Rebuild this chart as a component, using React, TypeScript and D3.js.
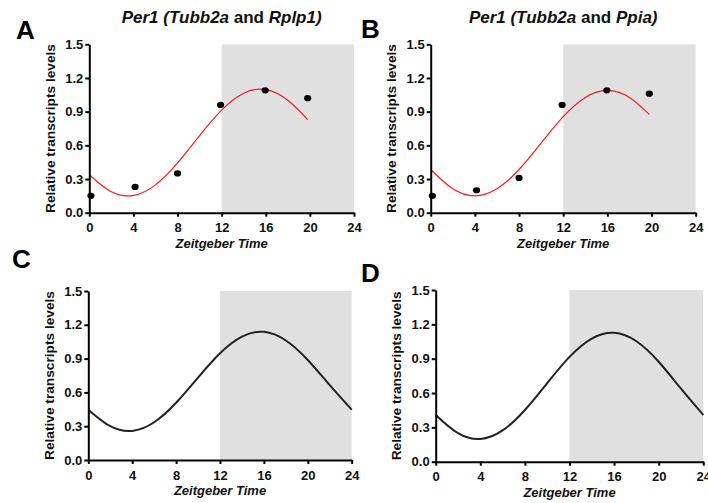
import React, { useEffect, useRef } from 'react';
import * as d3 from 'd3';

// sampling times (ZT hours) and measured relative levels
const sampleHours = [0.15, 4.15, 8, 11.9, 15.95, 19.8];
const pointsA = [0.15, 0.23, 0.35, 0.96, 1.09, 1.02];
const pointsB = [0.15, 0.2, 0.31, 0.96, 1.09, 1.06];

// fitted curves
const fitHoursAB = [0, 2, 4, 6, 8, 10, 12, 14, 16, 18, 19.8];
const fitA = [0.338, 0.186, 0.154, 0.248, 0.443, 0.687, 0.914, 1.064, 1.096, 1.002, 0.829];
const fitB = [0.385, 0.213, 0.15, 0.213, 0.385, 0.62, 0.855, 1.027, 1.09, 1.027, 0.876];

const fitHoursCD = [0, 2, 4, 6, 8, 10, 12, 14, 16, 18, 20, 22, 24];
const fitC = [0.447, 0.3, 0.258, 0.335, 0.508, 0.732, 0.948, 1.096, 1.138, 1.061, 0.888, 0.664, 0.447];
const fitD = [0.408, 0.249, 0.198, 0.273, 0.452, 0.687, 0.916, 1.076, 1.126, 1.052, 0.873, 0.638, 0.408];

const xTicks = [0, 4, 8, 12, 16, 20, 24];
const yTicks = [0, 0.3, 0.6, 0.9, 1.2, 1.5];
const darkPhase = [12, 24];

const FONT = '"Liberation Sans", Arial, Helvetica, sans-serif';

const panels = [
  { letter: 'A', lx: 16, ly: 39, left: 89.3, right: 354, top: 44.3, bottom: 212.7,
    title: ['Tubb2a', 'Rplp1'], hours: fitHoursAB, fit: fitA, points: pointsA, color: '#ff1a1a', width: 1.2 },
  { letter: 'B', lx: 361, ly: 38, left: 430.7, right: 695.7, top: 44.3, bottom: 212.7,
    title: ['Tubb2a', 'Ppia'], hours: fitHoursAB, fit: fitB, points: pointsB, color: '#ff1a1a', width: 1.2 },
  { letter: 'C', lx: 12, ly: 268, left: 88.3, right: 351.7, top: 291, bottom: 460,
    title: null, hours: fitHoursCD, fit: fitC, points: null, color: '#222', width: 2 },
  { letter: 'D', lx: 361, ly: 282, left: 435.7, right: 703.3, top: 290, bottom: 461.7,
    title: null, hours: fitHoursCD, fit: fitD, points: null, color: '#222', width: 2 },
];

export default function App() {
  const ref = useRef<SVGSVGElement>(null);

  useEffect(() => {
    const svg = d3.select(ref.current);
    svg.selectAll('*').remove();

    panels.forEach((p) => {
      const x = d3.scaleLinear().domain([0, 24]).range([p.left, p.right]);
      const y = d3.scaleLinear().domain([0, 1.5]).range([p.bottom, p.top]);
      const g = svg.append('g');

      // night shading
      g.append('rect')
        .attr('x', x(darkPhase[0]))
        .attr('y', y(1.5))
        .attr('width', x(darkPhase[1]) - x(darkPhase[0]))
        .attr('height', y(0) - y(1.5))
        .attr('fill', '#e0e0e0');

      const line = d3.line<number>()
        .x((d, i) => x(p.hours[i]))
        .y((d) => y(d))
        .curve(d3.curveNatural);

      g.append('path')
        .attr('d', line(p.fit))
        .attr('fill', 'none')
        .attr('stroke', p.color)
        .attr('stroke-width', p.width);

      if (p.points) {
        g.selectAll('ellipse.pt').data(p.points).enter().append('ellipse')
          .attr('class', 'pt')
          .attr('cx', (d, i) => x(sampleHours[i]))
          .attr('cy', (d) => y(d))
          .attr('rx', 3.6)
          .attr('ry', 3.1)
          .attr('fill', '#000');
      }

      const xa = g.append('g')
        .attr('transform', `translate(0,${p.bottom})`)
        .call(d3.axisBottom(x).tickValues(xTicks).tickSize(4).tickSizeOuter(0).tickPadding(6.5).tickFormat(d3.format('d')));
      const ya = g.append('g')
        .attr('transform', `translate(${p.left},0)`)
        .call(d3.axisLeft(y).tickValues(yTicks).tickSize(4).tickSizeOuter(0).tickPadding(2).tickFormat(d3.format('.1f')));

      [xa, ya].forEach((a) => {
        a.attr('font-family', FONT).attr('font-size', 13).attr('font-weight', 'bold');
        a.select('.domain').attr('stroke', '#000').attr('stroke-width', 2);
        a.selectAll('.tick line').attr('stroke', '#000').attr('stroke-width', 2);
        a.selectAll('.tick text').attr('fill', '#111');
      });

      // axis titles
      g.append('text')
        .attr('x', (p.left + p.right) / 2)
        .attr('y', p.bottom + 35)
        .attr('text-anchor', 'middle')
        .attr('font-family', FONT)
        .attr('font-size', 13)
        .attr('font-weight', 'bold')
        .attr('font-style', 'italic')
        .attr('fill', '#111')
        .text('Zeitgeber Time');

      g.append('text')
        .attr('transform', `translate(${p.left - 34.5},${(p.top + p.bottom) / 2}) rotate(-90)`)
        .attr('text-anchor', 'middle')
        .attr('font-family', FONT)
        .attr('font-size', 13.7)
        .attr('font-weight', 'bold')
        .attr('fill', '#111')
        .text('Relative transcripts levels');

      g.append('text')
        .attr('x', p.lx)
        .attr('y', p.ly)
        .attr('font-family', FONT)
        .attr('font-size', 26)
        .attr('font-weight', 'bold')
        .attr('fill', '#000')
        .text(p.letter);

      if (p.title) {
        const t = g.append('text')
          .attr('x', (p.left + p.right) / 2)
          .attr('y', 23)
          .attr('text-anchor', 'middle')
          .attr('font-family', FONT)
          .attr('font-size', 17)
          .attr('font-weight', 'bold')
          .attr('fill', '#111');
        t.append('tspan').attr('font-style', 'italic').text(`Per1 (${p.title[0]}`);
        t.append('tspan').text(' and ');
        t.append('tspan').attr('font-style', 'italic').text(`${p.title[1]})`);
      }
    });
  }, []);

  return (
    <div style={{ position: 'absolute', left: 0, top: 0 }}>
      <svg ref={ref} width={708} height={503} style={{ display: 'block', background: '#fff' }}></svg>
    </div>
  );
}
